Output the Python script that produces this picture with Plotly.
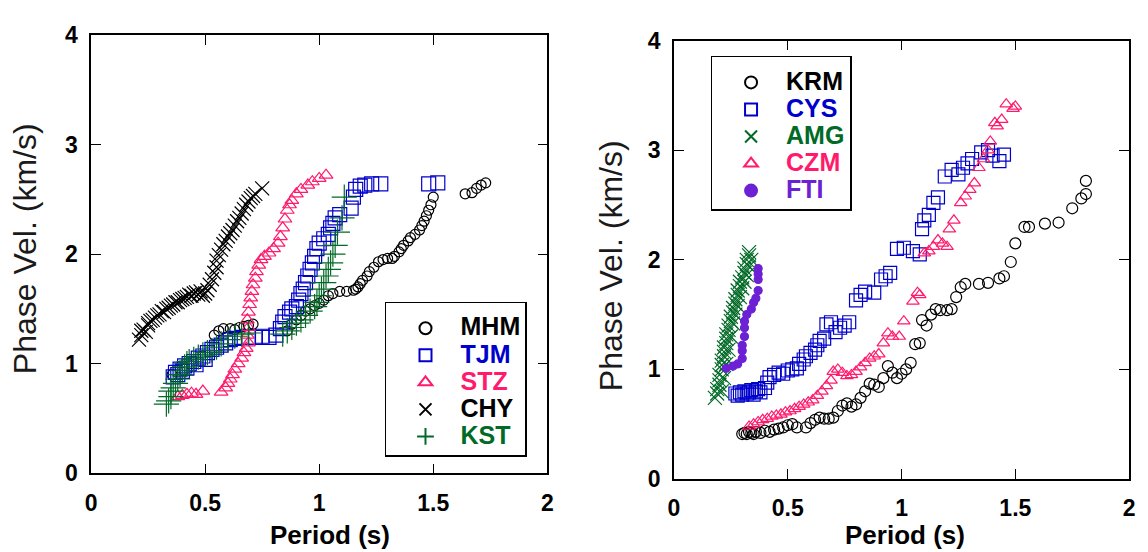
import plotly.graph_objects as go

# ---------------- data (Period s, Phase velocity km/s) ----------------
MHM = [(0.355,0.90),(0.54,1.26),(0.56,1.30),(0.58,1.32),(0.61,1.32),(0.63,1.31),(0.65,1.33),(0.67,1.34),
       (0.69,1.35),(0.71,1.36),(0.86,1.30),(0.88,1.36),(0.90,1.40),(0.92,1.44),(0.94,1.48),(0.96,1.50),
       (0.98,1.53),(1.00,1.55),(1.02,1.58),(1.04,1.62),(1.06,1.64),(1.09,1.66),(1.12,1.66),(1.15,1.67),
       (1.16,1.68),(1.17,1.70),(1.18,1.73),(1.19,1.76),(1.21,1.80),(1.22,1.84),(1.24,1.88),(1.26,1.93),
       (1.28,1.95),(1.30,1.96),(1.32,1.96),(1.33,1.98),(1.35,2.02),(1.36,2.05),(1.37,2.08),(1.39,2.12),
       (1.40,2.15),(1.42,2.18),(1.44,2.22),(1.45,2.26),(1.46,2.30),(1.47,2.35),(1.48,2.40),(1.49,2.45),
       (1.50,2.52),(1.64,2.55),(1.67,2.56),(1.69,2.60),(1.71,2.63),(1.73,2.65)]
TJM = [(0.36,0.88),(0.37,0.92),(0.38,0.90),(0.39,0.95),(0.40,0.93),(0.41,0.98),(0.42,0.96),(0.43,1.00),
       (0.45,1.02),(0.46,0.99),(0.47,1.05),(0.49,1.07),(0.50,1.04),(0.51,1.10),(0.53,1.13),(0.55,1.15),
       (0.57,1.17),(0.59,1.19),(0.61,1.22),(0.63,1.23),(0.66,1.24),(0.69,1.24),(0.72,1.24),(0.75,1.25),
       (0.78,1.24),(0.81,1.26),(0.83,1.32),(0.84,1.38),(0.85,1.43),(0.87,1.47),(0.88,1.50),(0.90,1.52),
       (0.91,1.58),(0.92,1.64),(0.93,1.68),(0.94,1.74),(0.95,1.80),(0.96,1.86),(0.97,1.92),(0.98,1.98),
       (0.99,2.05),(1.00,2.10),(1.02,2.14),(1.04,2.18),(1.05,2.24),(1.06,2.28),(1.07,2.33),(1.09,2.36),
       (1.14,2.42),(1.15,2.52),(1.16,2.59),(1.18,2.62),(1.20,2.63),(1.23,2.64),(1.27,2.64),(1.48,2.64),
       (1.52,2.65)]
STZ = [(0.38,0.70),(0.40,0.71),(0.42,0.72),(0.44,0.73),(0.46,0.72),(0.49,0.75),(0.57,0.74),(0.59,0.78),
       (0.60,0.82),(0.61,0.86),(0.62,0.90),(0.63,0.95),(0.645,1.00),(0.66,1.05),(0.67,1.10),(0.68,1.14),
       (0.69,1.19),(0.685,1.26),(0.69,1.33),(0.685,1.40),(0.69,1.47),(0.695,1.54),(0.70,1.60),(0.705,1.66),
       (0.71,1.72),(0.72,1.78),(0.725,1.84),(0.735,1.90),(0.745,1.95),(0.76,1.98),(0.78,2.01),(0.80,2.05),
       (0.82,2.10),(0.83,2.16),(0.84,2.24),(0.85,2.32),(0.86,2.40),(0.87,2.45),(0.88,2.49),(0.90,2.55),
       (0.92,2.59),(0.95,2.63),(0.97,2.66),(1.00,2.69),(1.03,2.72)]
CHY = [(0.21,1.22),(0.22,1.26),(0.22,1.30),(0.23,1.31),(0.24,1.29),(0.25,1.35),(0.25,1.37),(0.26,1.39),
       (0.27,1.40),(0.28,1.42),(0.29,1.44),(0.30,1.45),(0.31,1.48),(0.32,1.47),(0.33,1.50),(0.34,1.51),
       (0.35,1.53),(0.36,1.54),(0.37,1.56),(0.38,1.56),(0.39,1.58),(0.40,1.59),(0.41,1.60),(0.42,1.61),
       (0.43,1.63),(0.44,1.62),(0.45,1.64),(0.46,1.65),(0.47,1.63),(0.48,1.66),(0.49,1.62),(0.50,1.64),
       (0.51,1.67),(0.52,1.72),(0.53,1.77),(0.54,1.83),(0.55,1.88),(0.55,1.94),(0.56,1.99),(0.57,2.04),
       (0.58,2.09),(0.59,2.12),(0.60,2.16),(0.61,2.19),(0.62,2.22),(0.63,2.26),(0.64,2.30),(0.65,2.33),
       (0.66,2.37),(0.67,2.41),(0.68,2.45),(0.69,2.48),(0.70,2.51),(0.71,2.53),(0.72,2.55),(0.75,2.60)]
KST = [(0.33,0.63),(0.34,0.66),(0.35,0.70),(0.35,0.75),(0.36,0.78),(0.37,0.82),(0.38,0.86),(0.39,0.90),
       (0.40,0.94),(0.41,0.97),(0.42,1.00),(0.43,1.02),(0.45,1.04),(0.47,1.06),(0.49,1.08),(0.51,1.10),
       (0.53,1.12),(0.55,1.15),(0.57,1.18),(0.60,1.22),(0.63,1.25),(0.66,1.27),(0.69,1.28),(0.84,1.27),
       (0.86,1.30),(0.88,1.33),(0.90,1.37),(0.92,1.40),(0.94,1.44),(0.96,1.48),(0.98,1.52),(0.99,1.56),
       (1.00,1.62),(1.01,1.68),(1.02,1.74),(1.03,1.80),(1.04,1.86),(1.05,1.92),(1.06,2.00),(1.07,2.08),
       (1.08,2.20),(1.10,2.33),(1.11,2.52)]

KRM = [(0.30,0.41),(0.31,0.42),(0.32,0.41),(0.33,0.43),(0.34,0.42),(0.35,0.41),(0.36,0.43),(0.38,0.42),
       (0.40,0.44),(0.42,0.43),(0.44,0.45),(0.46,0.46),(0.48,0.47),(0.50,0.49),(0.52,0.50),(0.54,0.47),
       (0.58,0.47),(0.60,0.51),(0.62,0.54),(0.64,0.56),(0.66,0.55),(0.68,0.55),(0.70,0.56),(0.72,0.62),
       (0.74,0.67),(0.76,0.69),(0.78,0.66),(0.80,0.68),(0.82,0.74),(0.84,0.80),(0.86,0.87),(0.88,0.86),
       (0.90,0.84),(0.92,0.92),(0.94,1.03),(0.96,0.97),(0.98,0.92),(1.00,0.96),(1.02,1.00),(1.04,1.06),
       (1.06,1.23),(1.08,1.24),(1.09,1.45),(1.11,1.40),(1.13,1.50),(1.15,1.55),(1.17,1.54),(1.20,1.54),
       (1.22,1.55),(1.24,1.66),(1.26,1.75),(1.28,1.78),(1.34,1.78),(1.38,1.79),(1.43,1.83),(1.45,1.85),
       (1.48,1.98),(1.50,2.15),(1.54,2.30),(1.56,2.30),(1.63,2.33),(1.69,2.34),(1.75,2.47),(1.79,2.56),
       (1.81,2.60),(1.81,2.72)]
CYS = [(0.27,0.78),(0.28,0.76),(0.29,0.79),(0.30,0.77),(0.31,0.80),(0.32,0.78),(0.33,0.79),(0.34,0.81),
       (0.35,0.77),(0.36,0.80),(0.37,0.82),(0.38,0.79),(0.40,0.83),(0.41,0.88),(0.42,0.93),(0.44,0.95),
       (0.46,0.97),(0.48,0.96),(0.50,0.99),(0.52,1.00),(0.54,1.01),(0.55,1.05),(0.57,1.09),(0.58,1.12),
       (0.60,1.15),(0.62,1.18),(0.63,1.22),(0.64,1.26),(0.66,1.28),(0.67,1.41),(0.69,1.43),(0.71,1.34),
       (0.73,1.38),(0.75,1.40),(0.77,1.43),(0.80,1.63),(0.82,1.68),(0.84,1.71),(0.88,1.70),(0.91,1.82),
       (0.93,1.85),(0.95,1.88),(0.98,2.10),(1.01,2.11),(1.05,2.08),(1.08,2.05),(1.09,2.28),(1.10,2.36),
       (1.12,2.41),(1.14,2.52),(1.16,2.57),(1.19,2.76),(1.22,2.82),(1.25,2.78),(1.27,2.84),(1.29,2.88),
       (1.31,2.92),(1.35,2.98),(1.38,3.00),(1.40,2.95),(1.43,2.90),(1.45,2.96)]
AMG = [(0.18,0.74),(0.19,0.78),(0.19,0.82),(0.20,0.86),(0.20,0.90),(0.20,0.95),(0.21,1.00),(0.21,1.04),
       (0.21,1.08),(0.22,1.12),(0.22,1.16),(0.22,1.20),(0.23,1.24),(0.23,1.28),(0.23,1.32),(0.24,1.36),
       (0.24,1.40),(0.25,1.44),(0.25,1.48),(0.26,1.52),(0.26,1.56),(0.27,1.60),(0.27,1.64),(0.28,1.68),
       (0.28,1.72),(0.29,1.76),(0.29,1.80),(0.30,1.84),(0.31,1.88),(0.31,1.92),(0.32,1.96),(0.32,2.00),
       (0.33,2.04),(0.33,2.07),(0.21,0.80),(0.22,0.92),(0.23,1.05),(0.24,1.18),(0.25,1.30),(0.26,1.42),
       (0.27,1.50),(0.28,1.58),(0.29,1.66),(0.30,1.74),(0.31,1.80),(0.32,1.86),(0.33,1.94),(0.34,2.00)]
CZM = [(0.33,0.48),(0.35,0.50),(0.37,0.52),(0.39,0.54),(0.41,0.55),(0.43,0.57),(0.45,0.58),(0.47,0.59),
       (0.49,0.61),(0.51,0.62),(0.53,0.64),(0.55,0.66),(0.57,0.68),(0.59,0.70),(0.61,0.72),(0.63,0.76),
       (0.65,0.80),(0.67,0.85),(0.69,0.90),(0.70,0.98),(0.72,1.00),(0.74,0.97),(0.76,0.94),(0.78,0.95),
       (0.80,0.98),(0.82,1.02),(0.84,1.06),(0.86,1.10),(0.88,1.12),(0.90,1.14),(0.92,1.24),(0.94,1.33),
       (0.96,1.30),(0.99,1.30),(1.01,1.44),(1.05,1.62),(1.07,1.70),(1.08,1.68),(1.10,2.06),(1.12,2.08),
       (1.14,2.12),(1.16,2.18),(1.18,2.15),(1.20,2.12),(1.21,2.28),(1.23,2.36),(1.26,2.52),(1.28,2.58),
       (1.30,2.64),(1.32,2.70),(1.34,2.84),(1.36,2.92),(1.38,3.00),(1.39,3.08),(1.41,3.25),(1.42,3.22),
       (1.44,3.28),(1.46,3.42),(1.49,3.38),(1.50,3.40)]
FTI = [(0.23,1.01),(0.26,1.03),(0.28,1.05),(0.30,1.10),(0.30,1.17),(0.30,1.22),(0.31,1.30),(0.31,1.38),
       (0.31,1.44),(0.32,1.50),(0.34,1.55),(0.35,1.61),(0.36,1.65),(0.37,1.72),(0.37,1.82),(0.37,1.87),
       (0.37,1.92)]

X_TICKS = [0, 0.5, 1, 1.5, 2]
Y_TICKS = [0, 1, 2, 3, 4]

BLACK = "#000000"
BLUE = "#0000cc"
PINK = "#ff1a6c"
GREEN = "#006a26"
PURPLE = "#6c22d4"

FONT = "Liberation Sans, Arial, sans-serif"

left_series = [
    ("MHM", MHM, "circle-open", 10, BLACK),
    ("TJM", TJM, "square-open", 14, BLUE),
    ("STZ", STZ, "triangle-up-open", 12, PINK),
    ("CHY", CHY, "x-thin-open", 14, BLACK),
    ("KST", KST, "cross-thin-open", 18, GREEN),
]
right_series = [
    ("KRM", KRM, "circle-open", 11, BLACK),
    ("CYS", CYS, "square-open", 13, BLUE),
    ("AMG", AMG, "x-thin-open", 14, GREEN),
    ("CZM", CZM, "triangle-up-open", 11, PINK),
    ("FTI", FTI, "circle", 8, PURPLE),
]

fig = go.Figure()

def label(name, col):
    return f"<span style='color:{col};font-size:25px'><b>{name}</b></span>"

for name, pts, sym, sz, col in left_series:
    fig.add_trace(go.Scatter(
        x=[p[0] for p in pts], y=[p[1] for p in pts], mode="markers",
        name=label(name, col), legend="legend",
        marker=dict(symbol=sym, size=sz, color=col, line=dict(color=col, width=1.2)),
        xaxis="x", yaxis="y"))

for name, pts, sym, sz, col in right_series:
    fig.add_trace(go.Scatter(
        x=[p[0] for p in pts], y=[p[1] for p in pts], mode="markers",
        name=label(name, col), legend="legend2",
        marker=dict(symbol=sym, size=sz, color=col, line=dict(color=col, width=1.2)),
        xaxis="x2", yaxis="y2"))

axis_common = dict(
    showline=True, linecolor="black", linewidth=1.5, mirror="ticks",
    ticks="inside", ticklen=10, tickwidth=1.3, tickcolor="black",
    showgrid=False, zeroline=False,
    tickfont=dict(family=FONT, size=23, color="black", weight="bold"),
)

legend_common = dict(
    xanchor="left", yanchor="top",
    bordercolor="black", borderwidth=1.5, bgcolor="white",
    font=dict(family=FONT, size=18.5), tracegroupgap=0, itemsizing="constant",
    itemwidth=60, indentation=4,
    title=dict(text=" ", font=dict(size=5)),
)

fig.update_layout(
    width=1148, height=552,
    margin=dict(l=0, r=0, t=0, b=0),
    paper_bgcolor="white", plot_bgcolor="white",
    showlegend=True,
    xaxis=dict(domain=[86/1148, 547/1148], range=[0, 2], tickvals=X_TICKS, anchor="y",
               ticklabelstandoff=8, **axis_common),
    yaxis=dict(domain=[(552-483)/552, (552-23)/552], range=[0, 4], tickvals=Y_TICKS, anchor="x",
               ticklabelstandoff=7, **axis_common),
    xaxis2=dict(domain=[675/1148, 1135/1148], range=[0, 2], tickvals=X_TICKS, anchor="y2",
                ticklabelstandoff=8, **axis_common),
    yaxis2=dict(domain=[(552-489)/552, (552-29)/552], range=[0, 4], tickvals=Y_TICKS, anchor="x2",
                ticklabelstandoff=7, **axis_common),
    legend=dict(x=383/1148, y=(552-303)/552, **legend_common),
    legend2=dict(x=712/1148, y=(552-45)/552, **legend_common),
    annotations=[
        dict(text="Phase Vel. (km/s)", textangle=-90, x=20/1148, y=(552-247)/552,
             xanchor="center", yanchor="middle",
             xref="paper", yref="paper", showarrow=False,
             font=dict(family=FONT, size=32, color="#1a1a1a")),
        dict(text="Phase Vel. (km/s)", textangle=-90, x=611/1148, y=(552-265)/552,
             xanchor="center", yanchor="middle",
             xref="paper", yref="paper", showarrow=False,
             font=dict(family=FONT, size=32, color="#1a1a1a")),
        dict(text="<b>Period (s)</b>", x=327/1148, y=4/552,
             xanchor="center", yanchor="middle",
             xref="paper", yref="paper", showarrow=False,
             font=dict(family=FONT, size=26, color="black")),
        dict(text="<b>Period (s)</b>", x=909/1148, y=4/552,
             xanchor="center", yanchor="middle",
             xref="paper", yref="paper", showarrow=False,
             font=dict(family=FONT, size=26, color="black")),
    ],
)

fig.write_html("out.html")
